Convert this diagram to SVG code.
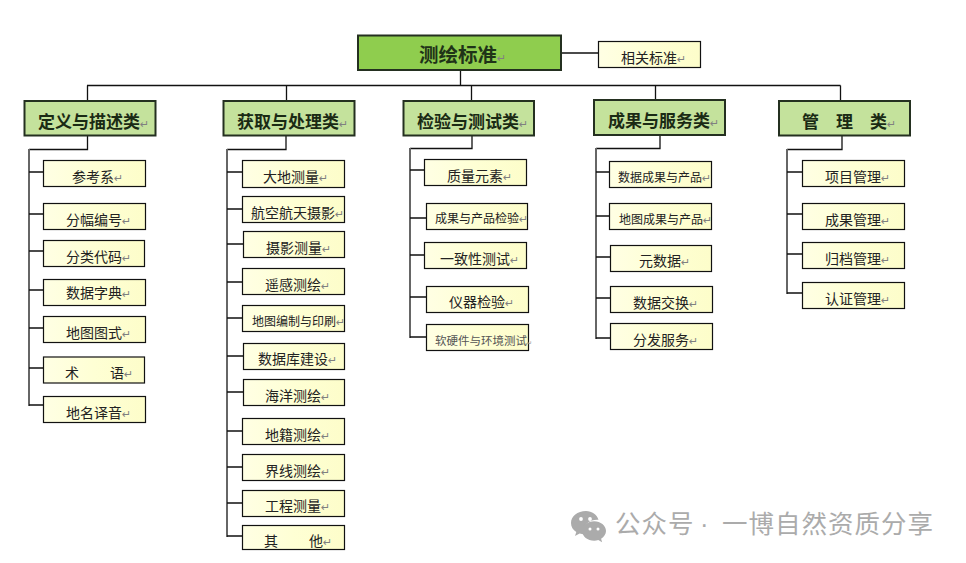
<svg xmlns="http://www.w3.org/2000/svg" width="966" height="563" viewBox="0 0 966 563">
<style>
text{font-family:"Noto Sans CJK SC","Noto Sans CJK JP",sans-serif;fill:#222}
.leaf rect,.rel rect{fill:url(#ly);stroke:#111;stroke-width:1.2}
.leaf text,.rel text{font-size:14px;transform:translateY(-1px)}
.s12 text{font-size:12px}
.cat rect{fill:#c4e29c;stroke:#243020;stroke-width:2}
.cat text{font-size:17px;font-weight:700;fill:#1a2a14}
.root rect{fill:#8fcd4e;stroke:#243020;stroke-width:2}
.root text{font-size:19.5px;font-weight:700;fill:#1f3318}
.m{fill:#808080;font-size:11px;font-weight:400;font-family:"DejaVu Sans",sans-serif}
#connectors path{fill:none;stroke:#111;stroke-width:1.3}
#connectors path.v{stroke:#666;stroke-width:2}
#wm text{font-size:25.500px;fill:#ababab;letter-spacing:1px}
#wm .dot{font-family:"Liberation Sans",sans-serif}
</style>
<defs>
<linearGradient id="ly" x1="0" y1="0" x2="1" y2="0"><stop offset="0" stop-color="#ffffe4"/><stop offset=".5" stop-color="#feffd4"/><stop offset="1" stop-color="#fdfdca"/></linearGradient>
</defs>
<rect width="966" height="563" fill="#fff"/>
<g id="connectors">
<path d="M561 53H598M460.500 70V85.500M87 85.500H840.500M87.500 85.500V101M286.500 85.500V101M471.500 85.500V101M655.500 85.500V100M840.500 85.500V101"/>
<path d="M87.500 135V149.500H29M286 135V149.500H227M472 135V148.500H410M660 135V148.500H596M842 135V149.500H787"/>
<path class="v" d="M29 149V406M227 149V537M410 148V338M596 148V339M787 149V294"/>
<path d="M29 172H43M29 214H43M29 251H43M29 290H43M29 328H43M29 368H43M29 405H43"/>
<path d="M227 172H242M227 209H242M227 244H243M227 282H242M227 318H242M227 356H243M227 392H243M227 431H242M227 467H242M227 503H242M227 536H242"/>
<path d="M410 170H424M410 218H426M410 255H424M410 297H426M410 337H426"/>
<path d="M596 172H609M596 216H609M596 257H610M596 298H610M596 338H610"/>
<path d="M787 172H802M787 214H802M787 254H802M787 293H802"/>
</g>
<g id="root" class="root"><rect x="358" y="35.500" width="203" height="34.500"/><text x="419" y="62">测绘标准<tspan class="m">↵</tspan></text></g>
<g id="related" class="rel"><rect x="598.500" y="41.500" width="102" height="26"/><text x="621" y="64">相关标准<tspan class="m">↵</tspan></text></g>
<g id="cat1" class="cat"><rect x="24.500" y="101" width="131" height="34.500"/><text x="38" y="128">定义与描述类<tspan class="m">↵</tspan></text></g>
<g id="cat2" class="cat"><rect x="223.500" y="101" width="131" height="34.500"/><text x="237" y="128">获取与处理类<tspan class="m">↵</tspan></text></g>
<g id="cat3" class="cat"><rect x="403.500" y="101" width="130.500" height="34.500"/><text x="417" y="128">检验与测试类<tspan class="m">↵</tspan></text></g>
<g id="cat4" class="cat"><rect x="594" y="100" width="131" height="35"/><text x="608" y="127">成果与服务类<tspan class="m">↵</tspan></text></g>
<g id="cat5" class="cat"><rect x="779" y="101" width="131" height="34.500"/><text x="802" y="128">管　理　类<tspan class="m">↵</tspan></text></g>

<g id="a1" class="leaf"><rect x="43.500" y="160.500" width="102" height="26"/><text x="72" y="183">参考系<tspan class="m">↵</tspan></text></g>
<g id="a2" class="leaf"><rect x="43.500" y="203.500" width="102" height="26"/><text x="66" y="226">分幅编号<tspan class="m">↵</tspan></text></g>
<g id="a3" class="leaf"><rect x="43.500" y="240.500" width="101" height="26"/><text x="66" y="263">分类代码<tspan class="m">↵</tspan></text></g>
<g id="a4" class="leaf"><rect x="43.500" y="279.500" width="102" height="26"/><text x="66" y="299">数据字典<tspan class="m">↵</tspan></text></g>
<g id="a5" class="leaf"><rect x="43.500" y="316.500" width="102" height="26"/><text x="66" y="339">地图图式<tspan class="m">↵</tspan></text></g>
<g id="a6" class="leaf"><rect x="43.500" y="357" width="101" height="26"/><text x="65" y="379">术<tspan x="110">语</tspan><tspan class="m">↵</tspan></text></g>
<g id="a7" class="leaf"><rect x="43.500" y="396.500" width="102" height="26"/><text x="66" y="419">地名译音<tspan class="m">↵</tspan></text></g>

<g id="b1" class="leaf"><rect x="242.500" y="160.500" width="102" height="27"/><text x="263" y="183">大地测量<tspan class="m">↵</tspan></text></g>
<g id="b2" class="leaf"><rect x="242.500" y="196.500" width="102" height="26"/><text x="251" y="219">航空航天摄影<tspan class="m">↵</tspan></text></g>
<g id="b3" class="leaf"><rect x="243.500" y="231.500" width="101" height="26"/><text x="266" y="254">摄影测量<tspan class="m">↵</tspan></text></g>
<g id="b4" class="leaf"><rect x="242.500" y="268.500" width="102" height="26"/><text x="265" y="291">遥感测绘<tspan class="m">↵</tspan></text></g>
<g id="b5" class="leaf s12"><rect x="242.500" y="305.500" width="102" height="26"/><text x="252" y="327">地图编制与印刷<tspan class="m">↵</tspan></text></g>
<g id="b6" class="leaf"><rect x="243.500" y="343.500" width="101" height="26"/><text x="258" y="365">数据库建设<tspan class="m">↵</tspan></text></g>
<g id="b7" class="leaf"><rect x="243.500" y="379.500" width="101" height="26"/><text x="265" y="402">海洋测绘<tspan class="m">↵</tspan></text></g>
<g id="b8" class="leaf"><rect x="242.500" y="418.500" width="102" height="26"/><text x="265" y="441">地籍测绘<tspan class="m">↵</tspan></text></g>
<g id="b9" class="leaf"><rect x="242.500" y="454.500" width="102" height="26"/><text x="265" y="477">界线测绘<tspan class="m">↵</tspan></text></g>
<g id="b10" class="leaf"><rect x="242.500" y="490.500" width="102" height="26"/><text x="265" y="512">工程测量<tspan class="m">↵</tspan></text></g>
<g id="b11" class="leaf"><rect x="242.500" y="525.500" width="102" height="24"/><text x="264" y="547">其<tspan x="309">他</tspan><tspan class="m">↵</tspan></text></g>

<g id="c1" class="leaf"><rect x="424.500" y="159.500" width="102" height="26"/><text x="447" y="182">质量元素<tspan class="m">↵</tspan></text></g>
<g id="c2" class="leaf s12"><rect x="426.500" y="203.500" width="101" height="26"/><text x="435" y="224">成果与产品检验<tspan class="m">↵</tspan></text></g>
<g id="c3" class="leaf"><rect x="424.500" y="242.500" width="102" height="26"/><text x="440" y="265">一致性测试<tspan class="m">↵</tspan></text></g>
<g id="c4" class="leaf"><rect x="426.500" y="286.500" width="102" height="26"/><text x="449" y="308">仪器检验<tspan class="m">↵</tspan></text></g>
<g id="c5" class="leaf"><rect x="426.500" y="324.500" width="102" height="26"/><text x="435" y="346" style="font-size:11.500px;fill:#555">软硬件与环境测试<tspan class="m" style="font-size:6px">↵</tspan></text></g>

<g id="d1" class="leaf s12"><rect x="609.500" y="161.500" width="102" height="26"/><text x="618" y="183">数据成果与产品<tspan class="m">↵</tspan></text></g>
<g id="d2" class="leaf s12"><rect x="609.500" y="203.500" width="102" height="26"/><text x="619" y="225">地图成果与产品<tspan class="m">↵</tspan></text></g>
<g id="d3" class="leaf"><rect x="610.500" y="245.500" width="101" height="26"/><text x="639" y="267">元数据<tspan class="m">↵</tspan></text></g>
<g id="d4" class="leaf"><rect x="610.500" y="286.500" width="102" height="26"/><text x="633" y="309">数据交换<tspan class="m">↵</tspan></text></g>
<g id="d5" class="leaf"><rect x="610.500" y="323.500" width="102" height="26"/><text x="633" y="346">分发服务<tspan class="m">↵</tspan></text></g>

<g id="e1" class="leaf"><rect x="802.500" y="160.500" width="102" height="26"/><text x="825" y="183">项目管理<tspan class="m">↵</tspan></text></g>
<g id="e2" class="leaf"><rect x="802.500" y="203.500" width="102" height="26"/><text x="825" y="226">成果管理<tspan class="m">↵</tspan></text></g>
<g id="e3" class="leaf"><rect x="802.500" y="242.500" width="102" height="26"/><text x="825" y="265">归档管理<tspan class="m">↵</tspan></text></g>
<g id="e4" class="leaf"><rect x="802.500" y="282.500" width="102" height="26"/><text x="825" y="305">认证管理<tspan class="m">↵</tspan></text></g>

<g id="wm">
<path d="M586 511c-8.500 0-15 5.200-15 12 0 3.800 2 6.900 5.300 9.100l-1.300 3.900 4.600-2.400c1.600.5 3.100.7 4.700.8-.4-1.100-.6-2.200-.6-3.400 0-6.500 6-11.300 13.400-11.300.6 0 .9 0 1.400.1-1.400-5-6.600-8.800-12.500-8.800z" fill="#ababab"/>
<path d="M606 531c0-5.400-5.500-9.800-11.800-9.800-6.700 0-12 4.400-12 9.800s5.300 9.800 12 9.800c1.400 0 2.800-.3 4.100-.7l3.800 2.100-1-3.400c2.900-2 4.900-4.700 4.900-7.800z" fill="#ababab"/>
<circle cx="581" cy="519" r="1.900" fill="#fff"/><circle cx="590" cy="519" r="1.900" fill="#fff"/>
<circle cx="590" cy="529" r="1.500" fill="#fff"/><circle cx="598" cy="529" r="1.500" fill="#fff"/>
<text x="615" y="533">公众号<tspan class="dot" x="700">·</tspan><tspan x="722">一博自然资质分享</tspan></text>
</g>
</svg>
